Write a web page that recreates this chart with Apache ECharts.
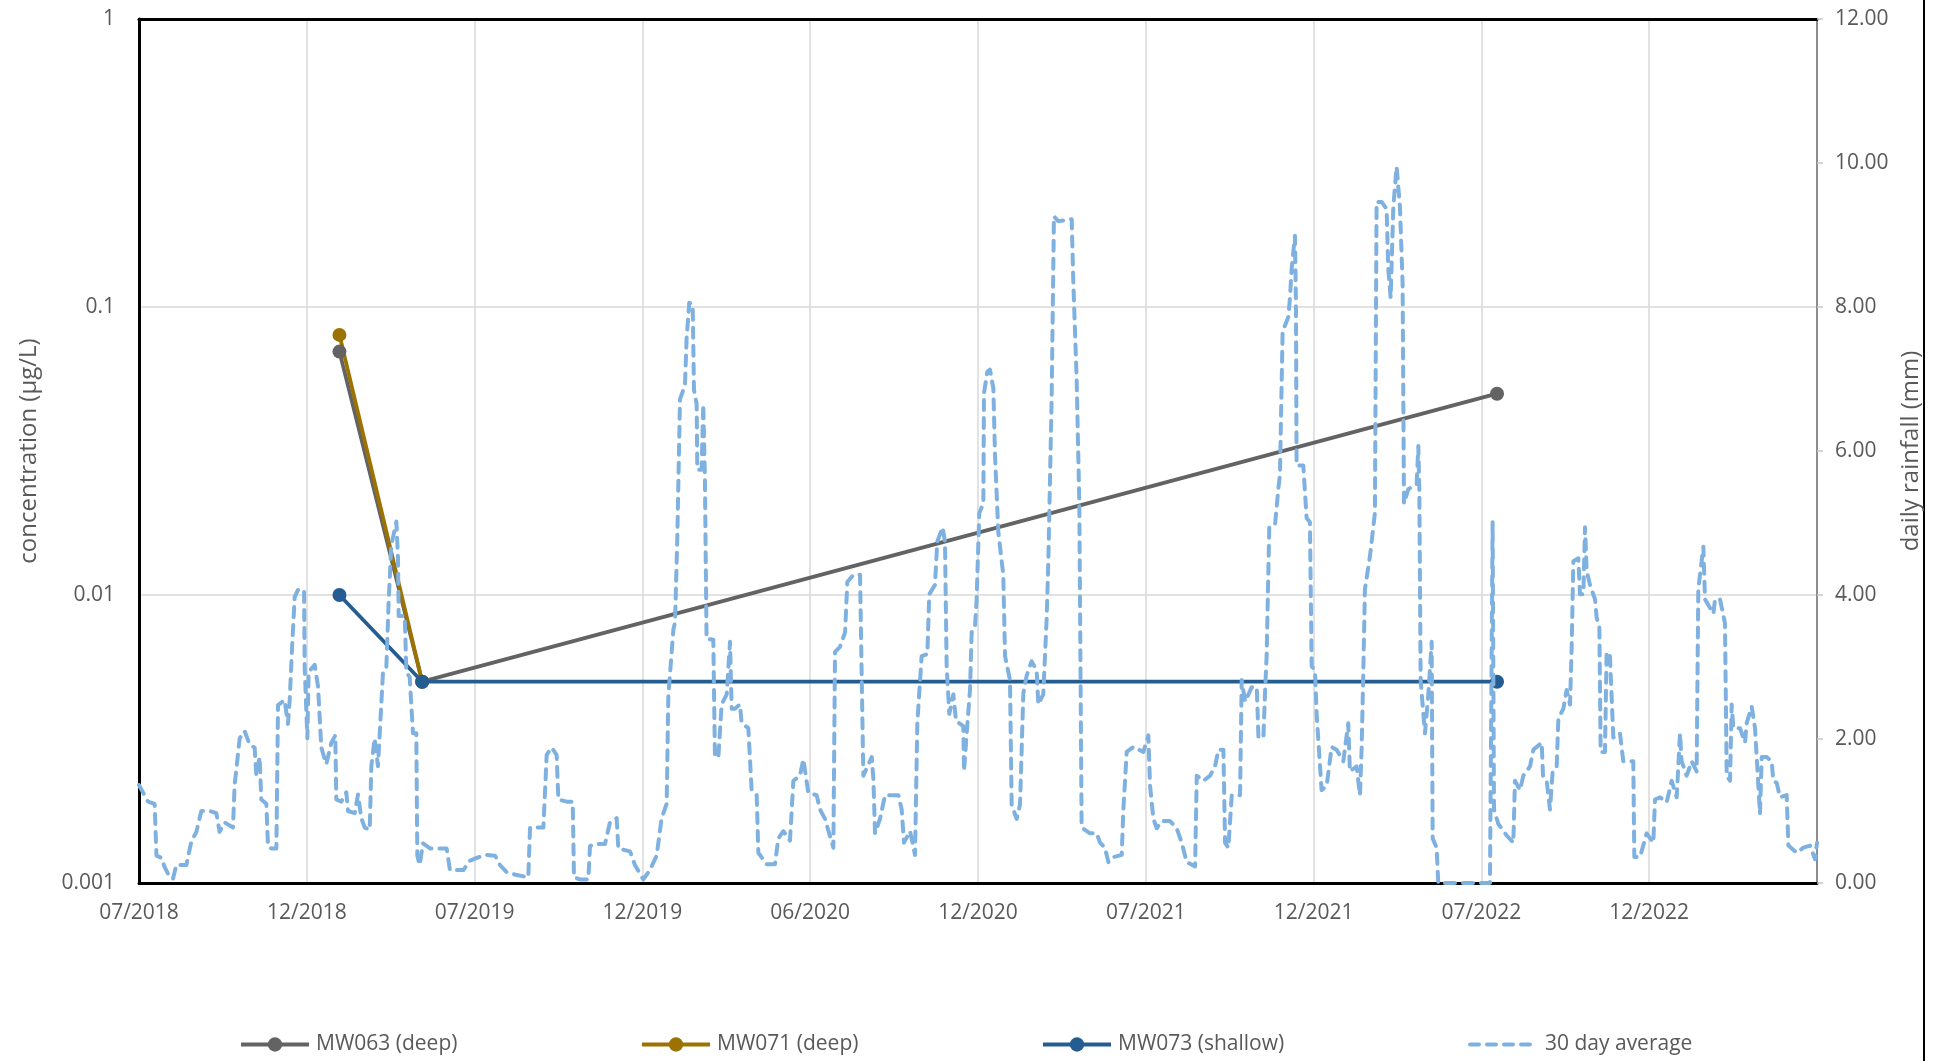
<!DOCTYPE html>
<html>
<head>
<meta charset="utf-8">
<script src="https://cdn.jsdelivr.net/npm/echarts@6/dist/echarts.min.js"></script>
<style>
  html, body { margin: 0; padding: 0; background: #ffffff; }
  #chart { width: 1939px; height: 1061px; }
</style>
</head>
<body>
<div id="chart"></div>
<script>
// Time axis is measured in days since 1 July 2018; ticks every half year.
const axisStart = Date.UTC(2018, 6, 1);
const tickStepDays = 182.5;
const axisSpanDays = 1825;

const xTickLabels = ['07/2018', '12/2018', '07/2019', '12/2019', '06/2020',
                     '12/2020', '07/2021', '12/2021', '07/2022', '12/2022'];
const concTickLabels = ['1', '0.1', '0.01', '0.001'];

// Groundwater sampling rounds and concentrations (µg/L)
const sampleDates = ['2019-02-04', '2019-05-05', '2022-07-17'];
const mw063 = [0.07, 0.005, 0.05];
const mw071 = [0.08, 0.005, null];
const mw073 = [0.01, 0.005, 0.005];

// 30 day average of daily rainfall (mm): [day since 1 July 2018, mm]
const rain30Day = [
  [0,1.36],[9.8,1.13],[17,1.10],[19,0.38],[24.3,0.35],[27.9,0.22],[33.4,0.08],[37,0.06],[40.6,0.25],[51.5,0.25],
  [57,0.58],[62.4,0.71],[67.8,1.0],[76.9,1.0],[84.1,0.97],[87.7,0.71],[93.2,0.84],[102.2,0.77],[104,1.36],[109.5,2.01],
  [114.9,2.11],[120.4,1.92],[125.8,1.88],[127.6,1.49],[131.2,1.75],[133,1.16],[138.5,1.10],[140.3,0.51],[143.9,0.48],[149.4,0.48],
  [151.2,2.47],[158.4,2.54],[162,2.21],[163.9,2.54],[166.4,3.25],[169.3,3.97],[172.9,4.07],[179.5,4.07],[180.2,2.99],[183.1,2.01],
  [184.5,2.93],[191.1,3.03],[194.7,2.73],[198.3,1.88],[203.7,1.65],[209.2,1.95],[213.5,2.05],[214.6,1.16],[220.1,1.13],[225.5,1.26],
  [227.3,1.0],[234.6,0.97],[238.2,1.23],[241.8,0.9],[245.5,0.77],[250.9,0.74],[252.7,1.62],[256.3,2.01],[259.9,1.62],[265.4,2.93],
  [269,2.99],[271.5,3.9],[274.4,4.69],[279.9,5.02],[281.7,4.5],[282.4,3.71],[289,3.71],[290.8,2.93],[294.4,2.86],[298,2.08],
  [301.6,2.08],[302.7,0.38],[305.2,0.25],[308.9,0.55],[316.5,0.48],[334.6,0.48],[338.2,0.18],[352.8,0.18],[360,0.31],[367.3,0.35],
  [378.1,0.39],[387.2,0.38],[392.6,0.25],[399.9,0.15],[410.8,0.11],[423.4,0.08],[425.3,0.77],[439.8,0.77],[443.4,1.78],[448.8,1.88],
  [454.2,1.78],[456.1,1.16],[465.1,1.13],[471.7,1.13],[473.1,0.08],[479.7,0.05],[488.7,0.05],[490.5,0.51],[494.1,0.54],[506.8,0.54],
  [512.2,0.84],[519.5,0.90],[521.3,0.48],[534,0.44],[539.4,0.25],[548.5,0.05],[555.7,0.18],[563,0.38],[568.4,0.90],[573.9,1.10],
  [575.7,2.60],[581.2,3.52],[583,3.62],[585.5,4.82],[588.4,6.72],[593.8,6.91],[595.6,7.57],[598.5,8.06],[602.2,8.03],[603.6,6.85],
  [606.5,6.65],[607.2,5.74],[611.9,5.74],[613.7,6.65],[615.5,5.61],[617.3,3.39],[624.6,3.38],[626.4,1.75],[630.1,1.75],[633.7,2.48],
  [639.2,2.62],[642.8,3.35],[644.6,2.42],[648.2,2.42],[653.6,2.48],[655.4,2.22],[662.7,2.15],[666.3,1.29],[671.8,1.22],[673.6,0.42],
  [682.7,0.26],[691.7,0.26],[695.3,0.62],[700.8,0.72],[708,0.59],[711.7,1.42],[718.9,1.49],[722.5,1.72],[728,1.25],[737,1.22],
  [740.7,1.02],[746.1,0.89],[755.2,0.49],[757,3.21],[762.4,3.28],[767.9,3.48],[770.4,4.18],[776.9,4.28],[784.2,4.28],[786,2.88],
  [787.8,1.49],[796.9,1.75],[798.7,1.45],[800.5,0.69],[805.9,0.89],[811.4,1.22],[825.9,1.22],[829.5,1.02],[832,0.56],[838.6,0.72],
  [844,0.39],[846.5,2.22],[851.2,3.15],[857.4,3.18],[859.5,4.01],[865.7,4.14],[868.2,4.74],[874,4.94],[876.6,4.74],[878.4,3.01],
  [881.3,2.35],[885.7,2.62],[888.6,2.25],[896.5,2.18],[897.3,1.55],[900.2,2.08],[903.8,2.68],[905.6,3.48],[909.2,3.55],[911,3.94],
  [913.9,5.14],[918.3,5.27],[919,6.80],[922.6,7.10],[925.5,7.13],[929.2,6.87],[931,5.94],[934.6,4.87],[940,4.28],[941.9,3.15],
  [947.3,2.82],[949.1,1.09],[954.5,0.89],[958.2,1.09],[961.8,2.63],[965.4,2.88],[970.8,3.08],[976.3,2.95],[978.1,2.48],[983.5,2.62],
  [987.2,3.68],[989,4.48],[992.6,6.73],[995.1,9.26],[999.8,9.19],[1014.4,9.22],[1016.2,8.33],[1019.8,7.0],[1022.7,5.27],[1025.2,0.77],
  [1034.3,0.69],[1041.6,0.69],[1045.2,0.56],[1050.6,0.49],[1054.3,0.29],[1059.7,0.36],[1068.8,0.39],[1070.6,1.02],[1074.2,1.82],[1081.5,1.89],
  [1092.3,1.82],[1097.8,2.05],[1099.6,1.35],[1103.3,0.89],[1106.9,0.76],[1112.3,0.86],[1121.4,0.86],[1128.6,0.76],[1134.1,0.56],[1139.5,0.29],
  [1148.6,0.23],[1150.4,1.49],[1157.6,1.42],[1164.9,1.49],[1170.3,1.62],[1174,1.85],[1179.4,1.85],[1181.2,0.56],[1184.8,0.49],[1188.5,1.22],
  [1197.5,1.22],[1199.3,2.82],[1203,2.52],[1210.2,2.72],[1215.7,2.72],[1217.5,2.02],[1222.9,2.02],[1224.6,2.62],[1226.4,3.15],[1229.3,4.94],
  [1235.5,4.97],[1239.1,5.47],[1240.9,5.67],[1243.8,7.66],[1250,7.86],[1251.8,8.13],[1253.6,8.53],[1257.2,8.99],[1258.3,8.06],[1259,5.80],
  [1266.3,5.80],[1269.9,5.07],[1273.5,5.01],[1275.4,3.01],[1279,2.95],[1280.8,2.35],[1286.2,1.29],[1291.7,1.35],[1297.1,1.89],[1302.5,1.85],
  [1309.8,1.69],[1315.2,2.22],[1317,1.55],[1324.3,1.62],[1327.9,1.22],[1329.7,1.85],[1331.5,2.88],[1333.3,4.08],[1338.8,4.54],[1342.4,4.94],
  [1344.2,5.14],[1346,9.46],[1351.5,9.46],[1356.9,9.36],[1358.7,8.53],[1361.3,8.13],[1364.2,9.39],[1367.8,9.95],[1371.4,9.39],[1374.3,8.33],
  [1375.8,5.27],[1380.5,5.47],[1389.6,5.54],[1391.4,6.07],[1392.5,5.47],[1393.9,2.82],[1398.6,2.08],[1402.3,2.62],[1405.9,3.35],[1407,0.62],
  [1411.3,0.49],[1413.1,0],[1469.3,0],[1472.2,5.01],[1473.7,1.02],[1478.4,0.82],[1487.5,0.66],[1494.7,0.56],[1496.5,1.42],[1502,1.29],
  [1505.6,1.49],[1512.9,1.62],[1516.5,1.85],[1525.6,1.95],[1527,1.49],[1531,1.42],[1534.6,1.02],[1537.5,1.55],[1541.9,1.62],[1543.7,2.28],
  [1549.1,2.42],[1552.7,2.68],[1556.4,2.48],[1558.2,3.28],[1560,4.47],[1565.4,4.51],[1567.2,4.01],[1570.9,4.01],[1572.7,4.94],[1574.5,4.34],
  [1578.1,4.14],[1583.6,3.94],[1585.4,3.68],[1588.3,3.55],[1589.7,1.82],[1594.4,1.82],[1596.2,3.21],[1599.8,3.15],[1603.5,2.02],[1610.7,2.08],
  [1614.3,1.69],[1625.2,1.69],[1626.3,0.36],[1632.5,0.36],[1639.7,0.69],[1647,0.56],[1648.8,1.16],[1654.2,1.19],[1661.5,1.12],[1666.9,1.42],
  [1672.4,1.19],[1676,2.08],[1677.8,1.69],[1683.3,1.49],[1688.7,1.69],[1694.1,1.55],[1695.9,4.08],[1701.4,4.67],[1703.2,3.94],[1712.3,3.74],
  [1714.1,3.94],[1719.5,3.94],[1724.9,3.61],[1726.8,1.49],[1730.4,1.42],[1732.2,2.48],[1734,2.15],[1741.3,2.15],[1746.7,1.95],[1748.5,2.22],
  [1754,2.45],[1757.6,2.15],[1759.4,1.75],[1763,0.96],[1764.9,1.75],[1770.3,1.75],[1775.7,1.69],[1777.5,1.42],[1781.2,1.39],[1784.8,1.19],
  [1792,1.22],[1793.9,0.52],[1802.9,0.42],[1810.2,0.49],[1817.4,0.52],[1822.9,0.33],[1825,0.56]
];

const FONT = '"Open Sans", "Noto Sans", sans-serif';
const TEXT_COLOR = '#595959';
const FONT_SIZE = 21;
const TITLE_SIZE = 24;
const RAIN_COLOR = '#7fb1e0';

function dayOf(iso) {
  const [y, m, d] = iso.split('-').map(Number);
  return (Date.UTC(y, m - 1, d) - axisStart) / 86400000;
}

function wellSeries(values) {
  const out = [];
  values.forEach((v, i) => { if (v != null) out.push([dayOf(sampleDates[i]), v]); });
  return out;
}

const wells = [
  { name: 'MW063 (deep)', values: mw063, color: '#636363' },
  { name: 'MW071 (deep)', values: mw071, color: '#9c7300' },
  { name: 'MW073 (shallow)', values: mw073, color: '#245d91' }
];

const legendLefts = [239, 640, 1041, 1468];

const legendBase = {
  top: 1034,
  padding: 0,
  itemWidth: 68,
  itemHeight: 18,
  selectedMode: false,
  textStyle: { fontFamily: FONT, fontSize: FONT_SIZE, color: TEXT_COLOR, padding: [0, 0, 0, 2] }
};

const chart = echarts.init(document.getElementById('chart'), null, { renderer: 'canvas' });

const option = {
  animation: false,
  backgroundColor: '#ffffff',
  textStyle: { fontFamily: FONT },
  grid: { left: 139, right: 122, top: 19, bottom: 178, containLabel: false },
  legend: wells.map((w, i) => Object.assign({}, legendBase, {
    data: [w.name],
    left: legendLefts[i],
    lineStyle: { width: 4 }
  })).concat([Object.assign({}, legendBase, {
    data: ['30 day average'],
    left: legendLefts[3],
    lineStyle: { width: 4, type: [9, 8], cap: 'round' },
    itemStyle: { opacity: 0 }
  })]),
  xAxis: [
    {
      type: 'value',
      position: 'bottom',
      min: 0,
      max: axisSpanDays,
      interval: tickStepDays,
      axisLine: { show: true, onZero: false, lineStyle: { color: '#000000', width: 3 } },
      axisTick: { show: false },
      splitLine: { show: true, lineStyle: { color: '#d9d9d9', width: 1.5 } },
      axisLabel: {
        margin: 20,
        fontFamily: FONT,
        fontSize: FONT_SIZE,
        color: TEXT_COLOR,
        formatter: v => xTickLabels[Math.round(v / tickStepDays)] || ''
      }
    },
    {
      type: 'value',
      position: 'top',
      min: 0,
      max: axisSpanDays,
      interval: tickStepDays,
      axisLine: { show: true, onZero: false, lineStyle: { color: '#000000', width: 3 } },
      axisTick: { show: false },
      axisLabel: { show: false },
      splitLine: { show: false }
    }
  ],
  yAxis: [
    {
      type: 'log',
      logBase: 10,
      min: 0.001,
      max: 1,
      interval: 1,
      position: 'left',
      name: 'concentration (µg/L)',
      nameLocation: 'middle',
      nameRotate: 90,
      nameGap: 98,
      nameTextStyle: { fontFamily: FONT, fontSize: TITLE_SIZE, color: TEXT_COLOR },
      axisLine: { show: true, onZero: false, lineStyle: { color: '#000000', width: 3 } },
      axisTick: { show: false },
      minorTick: { show: false },
      minorSplitLine: { show: false },
      splitLine: { show: true, lineStyle: { color: '#d9d9d9', width: 1.5 } },
      axisLabel: {
        margin: 24,
        fontFamily: FONT,
        fontSize: FONT_SIZE,
        color: TEXT_COLOR,
        formatter: v => concTickLabels[Math.round(-Math.log10(v))]
      }
    },
    {
      type: 'value',
      min: 0,
      max: 12,
      interval: 2,
      position: 'right',
      name: 'daily rainfall (mm)',
      nameLocation: 'middle',
      nameRotate: 90,
      nameGap: 76,
      nameTextStyle: { fontFamily: FONT, fontSize: TITLE_SIZE, color: TEXT_COLOR },
      axisLine: { show: true, onZero: false, lineStyle: { color: '#8c8c8c', width: 2 } },
      axisTick: { show: true, inside: false, length: 6, lineStyle: { color: '#c8c8c8', width: 1.5 } },
      splitLine: { show: false },
      axisLabel: {
        margin: 18,
        fontFamily: FONT,
        fontSize: FONT_SIZE,
        color: TEXT_COLOR,
        formatter: v => v.toFixed(2)
      }
    }
  ],
  graphic: [
    {
      type: 'line',
      shape: { x1: 1924, y1: 0, x2: 1924, y2: 1061 },
      style: { stroke: '#000000', lineWidth: 2 },
      silent: true
    }
  ],
  series: wells.map(w => ({
    name: w.name,
    type: 'line',
    xAxisIndex: 0,
    yAxisIndex: 0,
    data: wellSeries(w.values),
    symbol: 'circle',
    symbolSize: 14,
    showSymbol: true,
    lineStyle: { color: w.color, width: 3.8 },
    itemStyle: { color: w.color },
    z: 3
  })).concat([{
    name: '30 day average',
    type: 'line',
    xAxisIndex: 0,
    yAxisIndex: 1,
    data: rain30Day,
    showSymbol: false,
    symbol: 'none',
    clip: true,
    lineStyle: { color: RAIN_COLOR, width: 4, type: [10, 8], cap: 'round', join: 'round' },
    itemStyle: { color: RAIN_COLOR },
    z: 4
  }])
};

chart.setOption(option);
</script>
</body>
</html>
